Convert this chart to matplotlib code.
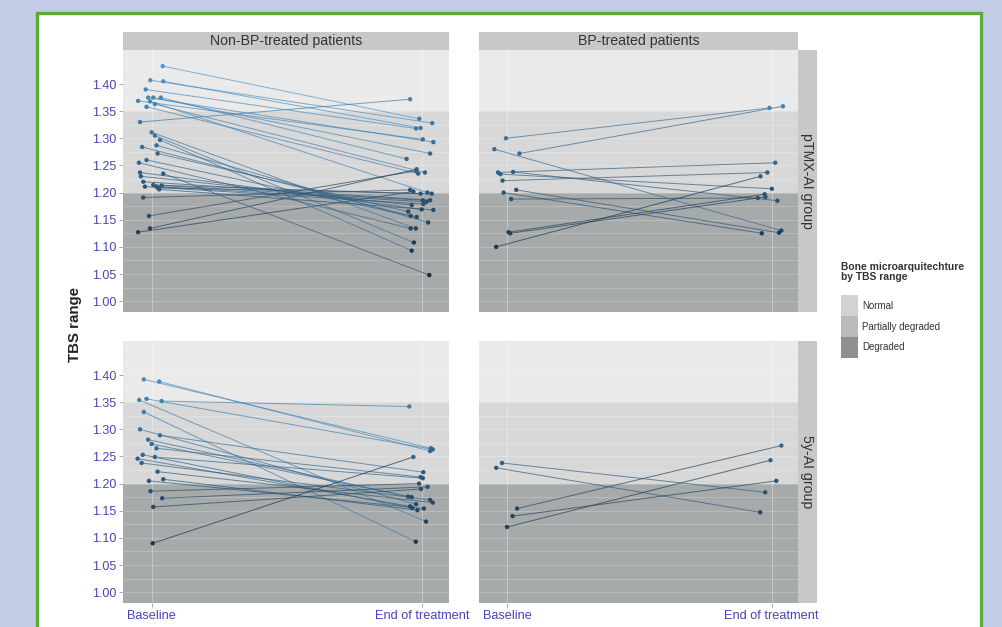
import numpy as np
import matplotlib.pyplot as plt
from matplotlib.colors import LinearSegmentedColormap, Normalize
from matplotlib.patches import Rectangle

plt.rcParams['font.family'] = ['Liberation Sans', 'DejaVu Sans']

W, H = 1003, 627

# TBS values (jittered x positions around 1 = Baseline, 2 = End)
# Non-BP-treated / pTMX-AI group
tl_base_x = [1.040, 0.994, 1.042, 0.956, 0.977, 0.949, 0.986, 1.005, 1.033, 0.980, 1.011, 0.993,
             0.989, 0.993, 0.949, 0.968, 0.999, 1.011, 1.030, 0.964, 1.017, 1.021, 0.980, 0.952,
             0.956, 1.042, 0.959, 0.968, 0.974, 1.005, 1.017, 1.027, 1.036, 1.022]
tl_base_y = [1.433, 1.407, 1.405, 1.330, 1.390, 1.369, 1.375, 1.375, 1.375, 1.358, 1.363, 1.368,
             1.157, 1.134, 1.127, 1.191, 1.311, 1.305, 1.297, 1.284, 1.287, 1.272, 1.260, 1.255,
             1.237, 1.235, 1.230, 1.220, 1.211, 1.214, 1.211, 1.206, 1.213, 1.209]
tl_end_x = [1.990, 2.038, 1.995, 1.956, 1.978, 2.003, 2.042, 2.030, 1.943, 1.986, 2.011, 2.020,
            1.978, 1.980, 1.968, 1.956, 1.977, 1.970, 1.962, 1.958, 2.023, 1.949, 1.980, 1.958,
            1.999, 2.027, 1.962, 2.030, 2.005, 1.995, 2.017, 2.042, 2.003, 2.036]
tl_end_y = [1.336, 1.328, 1.319, 1.372, 1.318, 1.298, 1.293, 1.272, 1.262, 1.235, 1.237, 1.200,
            1.240, 1.243, 1.202, 1.205, 1.134, 1.108, 1.093, 1.157, 1.145, 1.165, 1.155, 1.134,
            1.169, 1.048, 1.177, 1.186, 1.179, 1.198, 1.183, 1.168, 1.186, 1.198]

# BP-treated / pTMX-AI group
tr_base_x = [0.995, 1.046, 0.951, 0.965, 0.974, 1.022, 0.982, 0.986, 1.034, 1.015, 1.005, 1.011, 0.958]
tr_base_y = [1.300, 1.272, 1.280, 1.237, 1.234, 1.238, 1.222, 1.200, 1.205, 1.188, 1.127, 1.125, 1.100]
tr_end_x = [1.992, 2.043, 2.037, 2.014, 2.001, 2.022, 1.984, 1.963, 2.028, 1.948, 1.974, 1.977, 1.958]
tr_end_y = [1.356, 1.359, 1.130, 1.255, 1.207, 1.185, 1.237, 1.125, 1.126, 1.190, 1.197, 1.192, 1.230]

# Non-BP-treated / 5y-AI group
bl_base_x = [0.970, 1.027, 0.953, 0.980, 1.036, 0.970, 0.956, 1.030, 0.986, 0.999, 1.017,
             0.947, 0.966, 0.962, 1.011, 1.021, 1.042, 0.989, 0.995, 1.038, 1.005, 1.003]
bl_base_y = [1.392, 1.388, 1.354, 1.356, 1.352, 1.332, 1.300, 1.289, 1.281, 1.273, 1.265,
             1.246, 1.253, 1.238, 1.249, 1.222, 1.208, 1.205, 1.186, 1.173, 1.157, 1.090]
bl_end_x = [2.033, 2.030, 2.015, 2.040, 1.953, 1.977, 1.978, 2.005, 1.949, 1.962, 1.995,
            1.956, 1.964, 2.030, 2.003, 2.040, 1.983, 2.007, 1.989, 2.021, 1.996, 1.968]
bl_end_y = [1.265, 1.260, 1.130, 1.263, 1.342, 1.093, 1.162, 1.221, 1.176, 1.175, 1.212,
            1.158, 1.155, 1.170, 1.210, 1.165, 1.151, 1.154, 1.200, 1.194, 1.190, 1.249]

# BP-treated / 5y-AI group
br_base_x = [0.980, 0.958, 1.037, 1.020, 0.999]
br_base_y = [1.238, 1.229, 1.154, 1.140, 1.120]
br_end_x = [1.976, 1.957, 2.037, 2.018, 1.996]
br_end_y = [1.184, 1.147, 1.270, 1.205, 1.243]

col_titles = ['Non-BP-treated patients', 'BP-treated patients']
row_titles = ['pTMX-AI group', '5y-AI group']
x_labels = ['Baseline', 'End of treatment']
y_ticks = [1.00, 1.05, 1.10, 1.15, 1.20, 1.25, 1.30, 1.35, 1.40]
band_names = ['Normal', 'Partially degraded', 'Degraded']
band_limits = [(1.35, 1.50), (1.20, 1.35), (0.90, 1.20)]
band_colors = ['#eaeaea', '#d8d8d8', '#a7aaaa']
legend_colors = ['#d2d2d2', '#bababa', '#8c9090']

all_y = tl_base_y + tl_end_y + tr_base_y + tr_end_y + bl_base_y + bl_end_y + br_base_y + br_end_y
cmap = LinearSegmentedColormap.from_list('gg', ['#16283a', '#4e98cc'])
norm = Normalize(min(all_y), max(all_y))

tick_col = '#4646b4'


def box(x0, y0, x1, y1):
    return [x0 / W, 1 - y1 / H, (x1 - x0) / W, (y1 - y0) / H]


fig = plt.figure(figsize=(W / 100, H / 100), dpi=100)
fig.patch.set_facecolor('#c3cde7')
fig.add_artist(Rectangle((37 / W, -0.05), (981 - 37) / W, 1.05 - 13 / H,
                         transform=fig.transFigure, facecolor='white',
                         edgecolor='#5aab3c', linewidth=2.4, zorder=-10))

panel_boxes = [[(123, 50, 449, 312), (479, 50, 798, 312)],
               [(123, 341, 449, 603), (479, 341, 798, 603)]]
panel_data = [[(tl_base_x, tl_base_y, tl_end_x, tl_end_y), (tr_base_x, tr_base_y, tr_end_x, tr_end_y)],
              [(bl_base_x, bl_base_y, bl_end_x, bl_end_y), (br_base_x, br_base_y, br_end_x, br_end_y)]]

for r in range(2):
    for c in range(2):
        x0, y0, x1, y1 = panel_boxes[r][c]
        ax = fig.add_axes(box(x0, y0, x1, y1))
        for (lo, hi), col in zip(band_limits, band_colors):
            ax.axhspan(lo, hi, color=col, lw=0, zorder=0)
        for yy in np.arange(0.975, 1.46, 0.025):
            ax.axhline(yy, color='white', lw=0.5, alpha=0.3, zorder=1)
        for xx in [1, 2]:
            ax.axvline(xx, color='white', lw=0.6, alpha=0.4, zorder=1)
        bx, by, ex, ey = panel_data[r][c]
        for i in range(len(bx)):
            ax.plot([bx[i], ex[i]], [by[i], ey[i]], color=cmap(norm(by[i])),
                    lw=0.7, alpha=0.7, zorder=2)
        ax.scatter(bx + ex, by + ey, c=by + ey, cmap=cmap, norm=norm, s=10,
                   linewidths=0, zorder=3)
        ax.set_xlim(0.893, 2.1)
        ax.set_ylim(0.98, 1.4627)
        for s in ax.spines.values():
            s.set_visible(False)
        ax.set_yticks(y_ticks)
        ax.set_xticks([1, 2])
        ax.tick_params(length=3, color='#999999', width=0.6, pad=2)
        if c == 0:
            ax.set_yticklabels(['%.2f' % v for v in y_ticks], color=tick_col, fontsize=9)
        else:
            ax.tick_params(axis='y', length=0)
            ax.set_yticklabels([])
        if r == 1:
            ax.set_xticklabels(x_labels, color=tick_col, fontsize=9.2)
        else:
            ax.tick_params(axis='x', length=0)
            ax.set_xticklabels([])

# column strips
for c in range(2):
    x0, y0, x1, y1 = panel_boxes[0][c]
    sax = fig.add_axes(box(x0, 32, x1, 50))
    sax.set_facecolor('#c8c8c8')
    sax.set_xticks([])
    sax.set_yticks([])
    for s in sax.spines.values():
        s.set_visible(False)
    sax.text(0.5, 0.5, col_titles[c], ha='center', va='center', fontsize=10.2, color='#333333',
             transform=sax.transAxes)

# row strips
for r in range(2):
    x0, y0, x1, y1 = panel_boxes[r][1]
    sax = fig.add_axes(box(798, y0, 817, y1))
    sax.set_facecolor('#c8c8c8')
    sax.set_xticks([])
    sax.set_yticks([])
    for s in sax.spines.values():
        s.set_visible(False)
    sax.text(0.5, 0.5, row_titles[r], ha='center', va='center', fontsize=10.2, color='#333333',
             rotation=-90, transform=sax.transAxes)

fig.text(75 / W, 1 - 324 / H, 'TBS range', rotation=90, ha='center', va='center',
         fontsize=10.8, fontweight='bold', color='#222222')

# legend
fig.text(841 / W, 1 - 272 / H, 'Bone microarquitechture\nby TBS range', ha='left', va='center',
         fontsize=7.4, fontweight='bold', color='#333333', linespacing=1.1)
for i, (name, col) in enumerate(zip(band_names, legend_colors)):
    ky = 295 + i * 21
    fig.add_artist(Rectangle((841 / W, 1 - (ky + 21) / H), 17 / W, 21 / H,
                             transform=fig.transFigure, facecolor=col, edgecolor='none'))
    fig.text(862 / W, 1 - (ky + 10.5) / H, name, ha='left', va='center', fontsize=7,
             color='#333333')

fig.savefig('out.png', dpi=100)
